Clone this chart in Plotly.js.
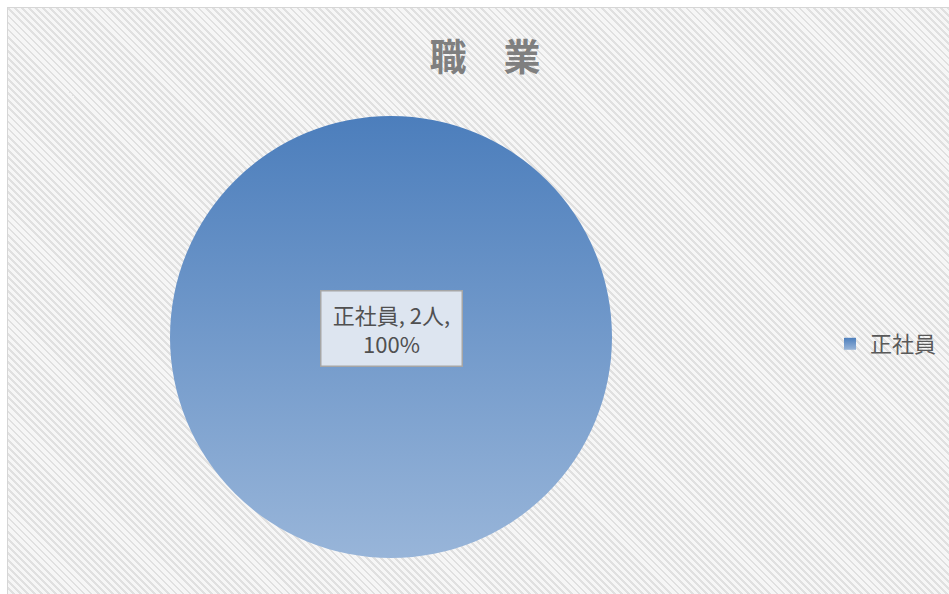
<!DOCTYPE html>
<html><head><meta charset="utf-8">
<script src="https://cdn.plot.ly/plotly-3.0.1.min.js"></script>
<style>
html,body{margin:0;padding:0;background:#fff;width:949px;height:594px;overflow:hidden;}
#bg{position:absolute;left:7px;top:7px;width:960px;height:600px;border:1px solid #d6d6d6;
background:repeating-linear-gradient(45deg,#f6f6f6 0px,#f6f6f6 3px,#e0e0e0 3px,#e0e0e0 5px);}
#chart{position:absolute;left:0;top:0;width:949px;height:594px;}
</style></head><body>
<div id="bg"></div>
<div id="chart"></div>
<script>
const chartTitle = "職　業";
const categories = ["正社員"];
const counts = [2];
const unit = "人";

const total = counts.reduce((a,b)=>a+b,0);
const labelText = categories[0] + ", " + counts[0] + unit + ",<br>" + Math.round(counts[0]/total*100) + "%";

const font = "'Noto Sans CJK JP', 'Noto Sans', sans-serif";
const dom = {x:[170/949, 612/949], y:[(594-558)/594, (594-116)/594]};

const data = [{
  type: "pie",
  labels: categories,
  values: counts,
  sort: false,
  textinfo: "none",
  hoverinfo: "none",
  marker: {colors: ["#7096C8"], line: {width: 0}},
  domain: dom,
  showlegend: true
}];

const layout = {
  width: 949, height: 594,
  margin: {l:0, r:0, t:0, b:0},
  paper_bgcolor: "rgba(0,0,0,0)",
  plot_bgcolor: "rgba(0,0,0,0)",
  font: {family: font},
  title: {text: chartTitle, x: 485/949, xanchor: "center", y: 1 - 58/594, yanchor: "middle",
          font: {family: font, size: 37, color: "#7f7f7f", weight: "bold"}},
  legend: {x: 830/949, xanchor: "left", y: 1 - 344/594, yanchor: "middle",
           font: {family: font, size: 22, color: "#595959"}, bgcolor: "rgba(0,0,0,0)",
           itemwidth: 30},
  annotations: [{
    text: labelText, showarrow: false,
    xref: "paper", yref: "paper",
    x: (dom.x[0]+dom.x[1])/2, y: 1 - 328/594, xanchor: "center", yanchor: "middle",
    font: {family: font, size: 22, color: "#505050"},
    bgcolor: "#DDE5F0", bordercolor: "#A6A6A6", borderwidth: 1.5, borderpad: 3,
    width: 134, height: 68
  }]
};

Plotly.newPlot("chart", data, layout, {staticPlot: true, displayModeBar: false}).then(gd => {
  const svg = gd.querySelector("svg.main-svg");
  const ns = "http://www.w3.org/2000/svg";
  let defs = svg.querySelector("defs");
  if (!defs) { defs = document.createElementNS(ns, "defs"); svg.insertBefore(defs, svg.firstChild); }
  const g = document.createElementNS(ns, "linearGradient");
  g.setAttribute("id", "pieGrad");
  g.setAttribute("x1", "0"); g.setAttribute("y1", "0"); g.setAttribute("x2", "0"); g.setAttribute("y2", "1");
  [["0", "#4C7EBC"], ["1", "#98B5D9"]].forEach(([o, c]) => {
    const s = document.createElementNS(ns, "stop");
    s.setAttribute("offset", o); s.setAttribute("stop-color", c);
    g.appendChild(s);
  });
  defs.appendChild(g);
  gd.querySelectorAll(".slice path.surface").forEach(p => { p.style.fill = "url(#pieGrad)"; });
  gd.querySelectorAll(".legendpoints path").forEach(p => { p.style.fill = "url(#pieGrad)"; });
});
</script>
</body></html>
